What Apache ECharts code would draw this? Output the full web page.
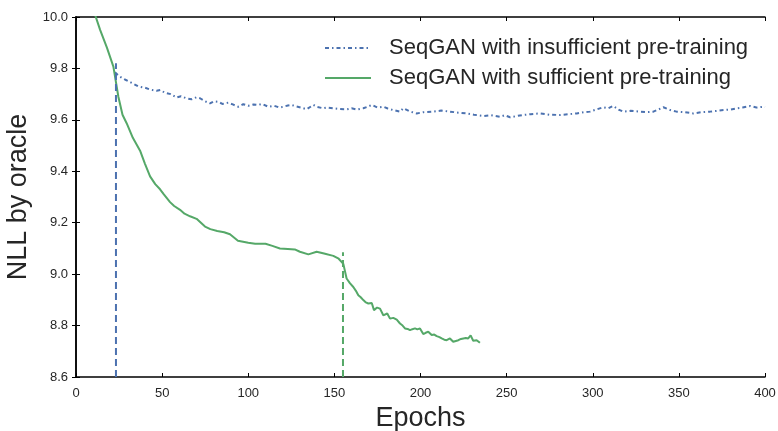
<!DOCTYPE html>
<html>
<head>
<meta charset="utf-8">
<script src="https://cdn.jsdelivr.net/npm/echarts@6/dist/echarts.min.js"></script>
<style>html,body{margin:0;padding:0;background:#fff;}#c{width:778px;height:431px;}</style>
</head>
<body>
<div id="c"></div>
<script>
const xTicks = [0, 50, 100, 150, 200, 250, 300, 350, 400];
const yTicks = [8.6, 8.8, 9.0, 9.2, 9.4, 9.6, 9.8, 10.0];

const insuffName = 'SeqGAN with insufficient pre-training';
const suffName = 'SeqGAN with sufficient pre-training';

const suffEpochs = [10,14,18,21.7,24.6,27,29.4,33,37.2,40,43,46,48.8,51,54.6,57,60.4,63,66.2,70,74.9,78,82,86,89.4,94,100,104,110,114,118.4,123,127,130,134.9,139.7,144,149.4,152.5,155.2,157.1,159,161,162.5,163.9,165.3,166.8,168.3,169.7,171.7,173,174.8,176.5,178.4,180.7,182.3,184.2,186.2,188.1,189.6,191,192.5,193.9,195.3,196.8,198.2,199.7,201.6,203,204.5,206.5,208,209.4,211,212.3,213.8,215.2,217.1,219,220.5,222,223.5,224.9,226.3,227.7,229.1,230.6,232.6,234.5];
const suffValues = [10.03,9.95,9.88,9.807,9.69,9.62,9.587,9.53,9.48,9.43,9.38,9.35,9.33,9.31,9.28,9.265,9.25,9.235,9.225,9.215,9.185,9.175,9.168,9.163,9.155,9.13,9.122,9.118,9.118,9.11,9.1,9.098,9.096,9.087,9.077,9.087,9.08,9.071,9.06,9.04,8.983,8.965,8.95,8.935,8.918,8.91,8.899,8.89,8.886,8.888,8.86,8.87,8.866,8.84,8.847,8.827,8.83,8.823,8.808,8.80,8.789,8.787,8.782,8.786,8.789,8.785,8.789,8.767,8.772,8.776,8.763,8.765,8.759,8.755,8.75,8.745,8.743,8.75,8.737,8.74,8.743,8.748,8.75,8.752,8.75,8.762,8.741,8.743,8.733];

const insuffEpochs = [22.6,25,28.4,32,36.2,40,43,46.8,49,51.7,55,58.4,61,64,67.1,70,72,75,77.8,80,82.6,85,88.4,91,94.2,97.1,100,103,105.8,108,111.6,115,118,120.4,123,125.2,128,131,133.9,137.8,140,143.6,146,149.4,153,157.2,160,163,166.8,169,171.7,175,178.4,181,184.2,188.1,190,194,197.8,202,207.4,212,217.1,222,226.8,231,236.5,241,246.2,249,252,256,259.7,264,269.4,275,281,286,290.7,295,298.4,302,306.1,309,311.9,315,317.7,322,327.4,331,335.2,338,341,345,348.7,353,358.4,363,368.1,372,375.9,380,383.6,387,391.4,395,399.1,400];
const insuffValues = [9.785,9.77,9.757,9.745,9.73,9.725,9.718,9.713,9.716,9.705,9.70,9.687,9.692,9.684,9.68,9.688,9.684,9.672,9.664,9.672,9.67,9.662,9.667,9.66,9.651,9.661,9.655,9.66,9.658,9.662,9.651,9.655,9.648,9.651,9.656,9.658,9.652,9.647,9.641,9.658,9.65,9.645,9.648,9.645,9.642,9.641,9.645,9.64,9.645,9.65,9.658,9.648,9.651,9.644,9.638,9.632,9.645,9.632,9.625,9.63,9.632,9.636,9.632,9.628,9.625,9.62,9.615,9.618,9.612,9.618,9.61,9.615,9.619,9.622,9.625,9.62,9.619,9.622,9.625,9.63,9.632,9.64,9.649,9.645,9.654,9.64,9.632,9.635,9.632,9.63,9.632,9.64,9.649,9.638,9.632,9.63,9.625,9.63,9.632,9.635,9.638,9.64,9.645,9.648,9.654,9.648,9.651,9.65];

// vertical markers: [epoch, bottom, top]
const insuffMarkerEpochs = [23.2, 23.2];
const insuffMarkerValues = [8.6, 9.82];
const suffMarkerEpochs = [155, 155];
const suffMarkerValues = [8.6, 9.085];

const blue = '#4C72B0';
const green = '#55A868';
const zip = (a, b) => a.map((v, i) => [v, b[i]]);
const font = 'Liberation Sans, Arial, sans-serif';

const chart = echarts.init(document.getElementById('c'));
const axisCommon = {
  axisLine: { show: true, lineStyle: { color: '#000', width: 1.5 } },
  axisTick: { show: true, inside: true, length: 4, lineStyle: { color: '#000', width: 1 } },
  splitLine: { show: false }
};
chart.setOption({
  animation: false,
  backgroundColor: '#fff',
  grid: { left: 76, right: 13, top: 17, bottom: 54, show: false, containLabel: false, outerBoundsMode: 'none' },
  legend: {
    show: true,
    orient: 'vertical',
    left: 319,
    top: 32,
    itemWidth: 46,
    itemHeight: 14,
    itemGap: 8,
    itemStyle: { opacity: 0 },
    data: [insuffName, suffName],
    textStyle: { fontFamily: font, fontSize: 22, color: '#262626', padding: [0, 0, 0, 13], lineHeight: 20 }
  },
  xAxis: [
    Object.assign({}, axisCommon, {
      type: 'value', min: 0, max: 400, interval: 50, position: 'bottom',
      name: 'Epochs', nameLocation: 'middle', nameGap: 27,
      nameTextStyle: { fontFamily: font, fontSize: 27, color: '#262626' },
      axisLabel: { fontFamily: font, fontSize: 13, color: '#262626', margin: 10,
        formatter: v => (xTicks.indexOf(v) >= 0 ? String(v) : '') }
    }),
    Object.assign({}, axisCommon, {
      type: 'value', min: 0, max: 400, interval: 50, position: 'top',
      axisLabel: { show: false }
    })
  ],
  yAxis: [
    Object.assign({}, axisCommon, {
      type: 'value', min: 8.6, max: 10.0, interval: 0.2, position: 'left',
      name: 'NLL by oracle', nameLocation: 'middle', nameGap: 42,
      nameTextStyle: { fontFamily: font, fontSize: 27, color: '#262626' },
      axisLabel: { fontFamily: font, fontSize: 13, color: '#262626', margin: 8,
        formatter: v => v.toFixed(1) }
    }),
    Object.assign({}, axisCommon, {
      type: 'value', min: 8.6, max: 10.0, interval: 0.2, position: 'right',
      axisLabel: { show: false }
    })
  ],
  series: [
    {
      name: insuffName, type: 'line', data: zip(insuffEpochs, insuffValues),
      symbol: 'none', clip: true,
      lineStyle: { color: blue, width: 2, type: [4, 3, 1.5, 3] },
      itemStyle: { color: blue }
    },
    {
      name: suffName, type: 'line', data: zip(suffEpochs, suffValues),
      symbol: 'none', clip: true,
      lineStyle: { color: green, width: 2 },
      itemStyle: { color: green }
    },
    {
      name: 'insuffMarker', type: 'line', data: zip(insuffMarkerEpochs, insuffMarkerValues),
      symbol: 'none', clip: true,
      lineStyle: { color: blue, width: 2, type: [7, 4] }
    },
    {
      name: 'suffMarker', type: 'line', data: zip(suffMarkerEpochs, suffMarkerValues),
      symbol: 'none', clip: true,
      lineStyle: { color: green, width: 2, type: [7, 4] }
    }
  ]
});
</script>
</body>
</html>
